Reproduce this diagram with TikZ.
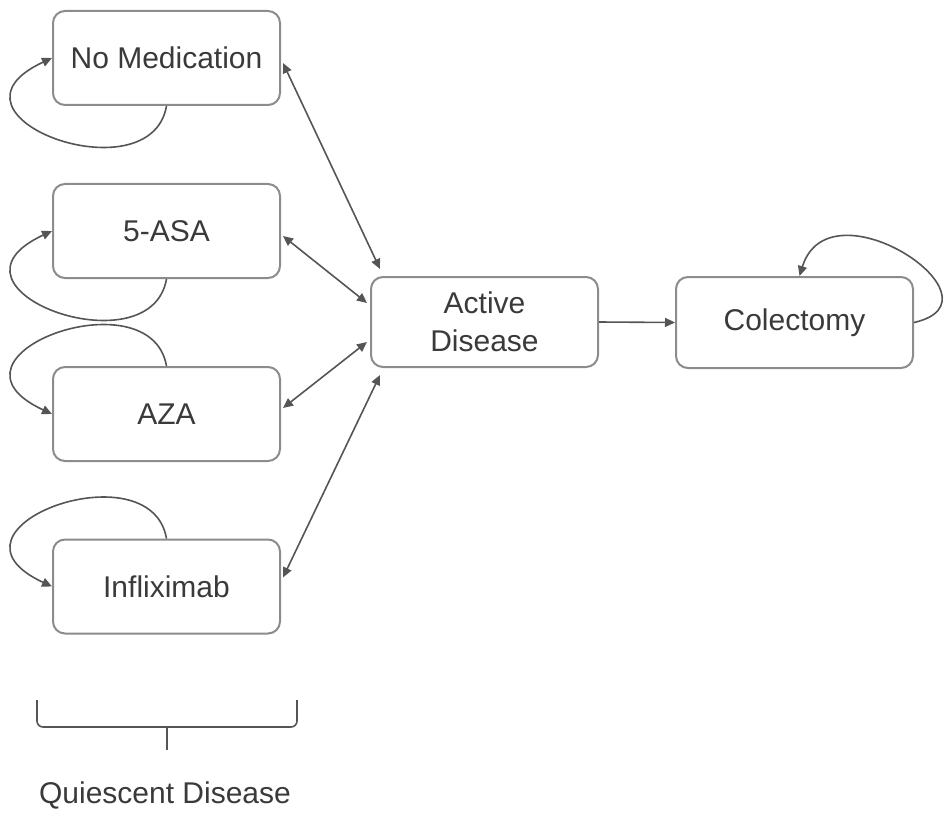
\documentclass[tikz,border=0pt]{standalone}
\usepackage{fontspec}
\setmainfont{Liberation Sans}
\usetikzlibrary{arrows.meta,calc}
\definecolor{boxgray}{HTML}{8C8C8C}
\definecolor{linegray}{HTML}{555555}
\definecolor{txtgray}{HTML}{3A3A3A}
\begin{document}
\begin{tikzpicture}[x=1pt,y=-1pt,
 stbox/.style={draw=boxgray, line width=2pt, rounded corners=12pt, minimum width=227pt, minimum height=94pt, text=txtgray, font=\fontsize{30}{38}\selectfont, align=center, inner sep=0pt},
 conn/.style={draw=linegray, line width=1.6pt},
 tip/.style={-{Triangle[length=10pt,width=9pt]}},
 bitip/.style={{Triangle[length=10pt,width=9pt]}-{Triangle[length=10pt,width=9pt]}}]
\useasboundingbox (0,0) rectangle (947,813);
\node[stbox] (nomed) at (166.5,58) {No Medication};
\node[stbox] (asa) at (166.5,231) {5-ASA};
\node[stbox] (aza) at (166.5,414) {AZA};
\node[stbox] (inf) at (166.5,586.5) {Infliximab};
\node[stbox, minimum height=90pt] (act) at (484.5,322) {Active\\Disease};
\node[stbox, minimum width=237pt, minimum height=91pt] (col) at (794.5,322.5) {Colectomy};
\draw[conn,bitip] ([xshift=2pt,yshift=-5pt]nomed.east) -- ([xshift=10pt,yshift=7pt]act.north west);
\draw[conn,bitip] ([xshift=2pt,yshift=-5pt]asa.east) -- ([xshift=-3pt,yshift=19pt]act.west);
\draw[conn,bitip] ([xshift=2pt,yshift=6pt]aza.east) -- ([xshift=-3pt,yshift=-20pt]act.west);
\draw[conn,bitip] ([xshift=2pt,yshift=9pt]inf.east) -- ([xshift=10pt,yshift=-7pt]act.south west);
\draw[conn,tip] (act.east) -- (col.west);
\draw[conn,tip] (nomed.south) .. controls +(-16,92) and +(-125,58) .. (nomed.west);
\draw[conn,tip] (asa.south) .. controls +(-16,92) and +(-125,58) .. (asa.west);
\draw[conn,tip] (aza.north) .. controls +(-16,-92) and +(-125,-58) .. (aza.west);
\draw[conn,tip] (inf.north) .. controls +(-16,-92) and +(-125,-58) .. (inf.west);
\draw[conn,tip] (col.east) .. controls +(97,-22) and +(30,-97) .. ([xshift=5pt]col.north);
\coordinate (bl) at (37,700);
\coordinate (br) at (297,700);
\coordinate (bm) at (167,727);
\draw[conn, rounded corners=6pt] (bl) |- (bm) -| (br);
\draw[conn] (bm) -- ++(0,23);
\node[text=txtgray, font=\fontsize{30}{38}\selectfont] (quiet) at (165,795) {Quiescent Disease};
\end{tikzpicture}
\end{document}
